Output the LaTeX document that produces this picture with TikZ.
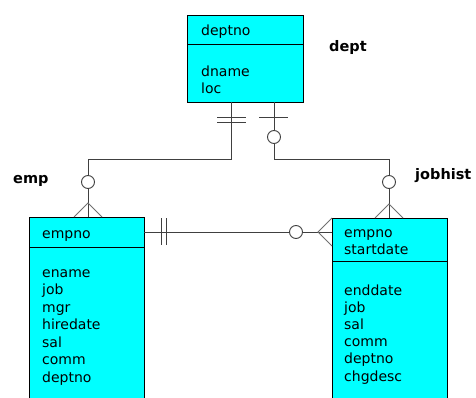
\documentclass[tikz,border=0pt]{standalone}
\usepackage{fontspec}
\setmainfont{DejaVu Sans}
\usetikzlibrary{calc}
\definecolor{boxfill}{HTML}{00FFFF}
\definecolor{linec}{HTML}{404040}
\definecolor{footc}{HTML}{707070}
\begin{document}
\begin{tikzpicture}[x=1pt,y=-1pt,
  ent/.style={draw=black,fill=boxfill,line width=0.9pt,inner sep=0,outer sep=0,anchor=north west},
  fld/.style={anchor=base west,inner sep=0,font=\fontsize{14}{17}\selectfont},
  lbl/.style={anchor=base west,inner sep=0,font=\fontsize{14.5}{17}\selectfont\bfseries},
  conn/.style={draw=linec,line width=0.9pt},
  foot/.style={draw=footc,line width=0.9pt},
  ring/.style={circle,draw=linec,fill=white,line width=0.9pt,minimum size=13pt,inner sep=0}]
\useasboundingbox (0,0) rectangle (476,398);
\clip (0,0) rectangle (476,398);
% dept
\node[ent,minimum width=116pt,minimum height=29pt] (depthd) at (187,15) {};
\node[ent,minimum width=116pt,minimum height=58pt] (deptbody) at (187,44) {};
\node[fld] (f1) at (201,36) {deptno};
\node[fld] (f2) at (201,77) {dname};
\node[fld] (f3) at (201,94) {loc};
\node[lbl] (ldept) at (329,51.5) {dept};
% emp
\node[ent,minimum width=115pt,minimum height=30pt] (emphd) at (29,217) {};
\node[ent,minimum width=115pt,minimum height=160pt] (empbody) at (29,247) {};
\node[fld] (e0) at (42,238) {empno};
\node[fld] (e1) at (42,277) {ename};
\node[fld] (e2) at (42,294.5) {job};
\node[fld] (e3) at (42,312) {mgr};
\node[fld] (e4) at (42,329.5) {hiredate};
\node[fld] (e5) at (42,347) {sal};
\node[fld] (e6) at (42,364.5) {comm};
\node[fld] (e7) at (42,382) {deptno};
\node[lbl] (lemp) at (13,183) {emp};
% jobhist
\node[ent,minimum width=115pt,minimum height=43pt] (jhhd) at (332,218) {};
\node[ent,minimum width=115pt,minimum height=150pt] (jhbody) at (332,261) {};
\node[fld] (j0) at (344,237) {empno};
\node[fld] (j1) at (344,254) {startdate};
\node[fld] (j2) at (344,295) {enddate};
\node[fld] (j3) at (344,312.2) {job};
\node[fld] (j4) at (344,329.4) {sal};
\node[fld] (j5) at (344,346.6) {comm};
\node[fld] (j6) at (344,363.8) {deptno};
\node[fld] (j7) at (344,381) {chgdesc};
\node[lbl] (ljh) at (415,179) {jobhist};
% dept -> emp
\draw[conn] ([xshift=44pt]deptbody.south west) -- ++(0,57) -| ([xshift=59pt]emphd.north west);
\draw[conn] (217,117) -- (246,117);
\draw[conn] (217,122) -- (246,122);
\node[ring] (c1) at (88,182) {};
\draw[foot] (74,217) -- (88,203) -- (102,217);
% dept -> jobhist
\draw[conn] ([xshift=87pt]deptbody.south west) -- ++(0,57) -| ([xshift=57pt]jhhd.north west);
\draw[conn] (259,117) -- (288,117);
\node[ring] (c2) at (274,137) {};
\node[ring] (c3) at (389,182) {};
\draw[foot] (375,218) -- (389,204) -- (403,218);
% emp -> jobhist
\draw[conn] ([yshift=-15pt]emphd.north east) -- ([yshift=-14pt]jhhd.north west);
\draw[conn] (161,218) -- (161,245);
\draw[conn] (166,218) -- (166,245);
\node[ring] (c4) at (296,232) {};
\draw[foot] (332,218) -- (318,232) -- (332,246);
\end{tikzpicture}
\end{document}
